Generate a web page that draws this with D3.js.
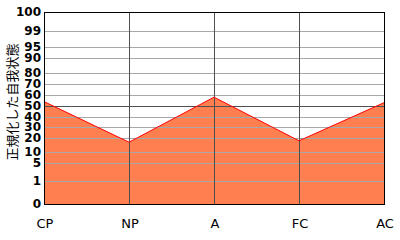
<!DOCTYPE html>
<html>
<head>
<meta charset="utf-8">
<script src="https://cdn.jsdelivr.net/npm/d3@7"></script>
<style>
  body { margin: 0; background: #fff; }
  svg { display: block; }
</style>
</head>
<body>
<div id="chart"></div>
<script>
const categories = ['CP', 'NP', 'A', 'FC', 'AC'];
const values = [54, 17, 58, 18, 53];
const tickValues = [0, 1, 5, 10, 20, 30, 40, 50, 60, 70, 80, 90, 95, 99, 100];
const yTitle = '正規化した自我状態';

const width = 400, height = 240;
const plotLeft = 44, plotRight = 384, plotTop = 12, plotBottom = 204;

const svg = d3.select('#chart').append('svg')
    .attr('width', width)
    .attr('height', height);

const x = d3.scalePoint()
    .domain(categories)
    .range([plotLeft, plotRight]);

// piecewise scale (percentile-like spacing)
const y = d3.scaleLinear()
    .domain(tickValues)
    .range([204, 181, 163, 152, 138, 127, 117, 106, 95, 84, 73, 58, 47, 31, 12]);

// filled area
const area = d3.area()
    .x(function (d, i) { return x(categories[i]); })
    .y0(y(0))
    .y1(function (d) { return y(d); });

svg.append('path')
    .datum(values)
    .attr('d', area)
    .attr('fill', '#ff7f50');

// grid lines over the fill
svg.append('g')
    .selectAll('line')
    .data(tickValues.filter(function (d) { return d > 0 && d < 100; }))
    .enter()
    .append('line')
    .attr('x1', plotLeft)
    .attr('x2', plotRight)
    .attr('y1', function (d) { return Math.round(y(d)) + 0.5; })
    .attr('y2', function (d) { return Math.round(y(d)) + 0.5; })
    .attr('stroke', function (d) { return d === 50 ? '#505050' : '#a8a8a8'; })
    .attr('stroke-width', 1);

svg.append('g')
    .selectAll('line')
    .data(categories.slice(1, -1))
    .enter()
    .append('line')
    .attr('x1', function (d) { return Math.round(x(d)) + 0.5; })
    .attr('x2', function (d) { return Math.round(x(d)) + 0.5; })
    .attr('y1', plotTop)
    .attr('y2', plotBottom)
    .attr('stroke', '#505050')
    .attr('stroke-width', 1);

// red outline
const line = d3.line()
    .x(function (d, i) { return x(categories[i]); })
    .y(function (d) { return y(d); });

svg.append('path')
    .datum(values)
    .attr('d', line)
    .attr('fill', 'none')
    .attr('stroke', '#ff0000')
    .attr('stroke-width', 1);

// frame
svg.append('rect')
    .attr('x', plotLeft + 0.5)
    .attr('y', plotTop + 0.5)
    .attr('width', plotRight - plotLeft)
    .attr('height', plotBottom - plotTop)
    .attr('fill', 'none')
    .attr('stroke', '#000')
    .attr('stroke-width', 1);

// y tick labels
svg.append('g')
    .style('font', 'bold 12px "DejaVu Sans", sans-serif')
    .selectAll('text')
    .data(tickValues)
    .enter()
    .append('text')
    .attr('x', 41)
    .attr('y', function (d) { return y(d); })
    .attr('dy', '0.36em')
    .attr('text-anchor', 'end')
    .attr('fill', '#000')
    .text(function (d) { return d; });

// x labels
svg.append('g')
    .style('font', '13px "DejaVu Sans", sans-serif')
    .selectAll('text')
    .data(categories)
    .enter()
    .append('text')
    .attr('x', function (d) { return x(d) + 1; })
    .attr('y', 228)
    .attr('text-anchor', 'middle')
    .attr('fill', '#000')
    .text(function (d) { return d; });

// y title
svg.append('text')
    .attr('transform', 'translate(17,102) rotate(-90)')
    .attr('text-anchor', 'middle')
    .style('font', '13px "Noto Sans CJK JP", sans-serif')
    .attr('fill', '#000')
    .text(yTitle);
</script>
</body>
</html>
